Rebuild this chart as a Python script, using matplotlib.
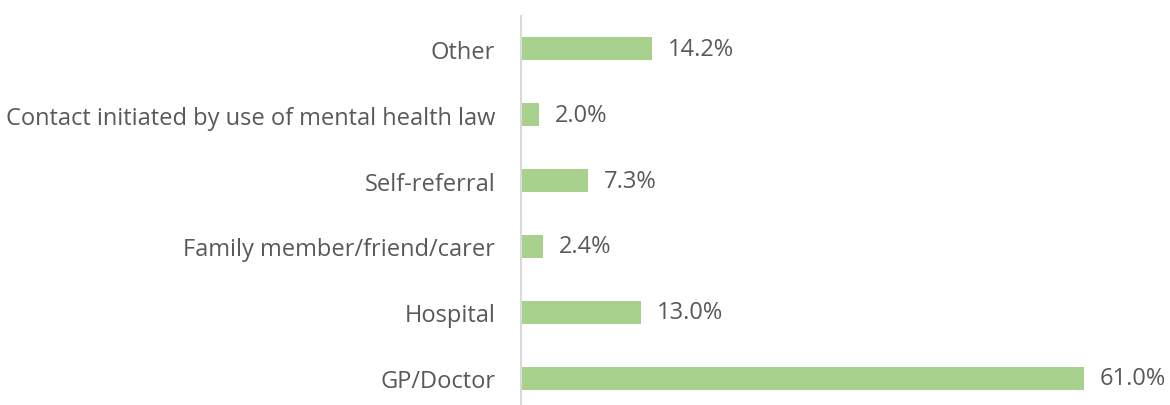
import matplotlib.pyplot as plt

categories = ['GP/Doctor', 'Hospital', 'Family member/friend/carer', 'Self-referral',
              'Contact initiated by use of mental health law', 'Other']
values = [61.0, 13.0, 2.4, 7.3, 2.0, 14.2]

plt.rcParams['font.family'] = ['Open Sans', 'DejaVu Sans']

fig = plt.figure(figsize=(11.7, 4.06), dpi=100)
# axis line at x=521px, category band from 17px to ~412px (below figure edge)
ax = fig.add_axes([521 / 1170, -6 / 406, 649 / 1170, 395 / 406])

ypos = range(len(categories))
ax.barh(ypos, values, height=0.35, color='#A9D18E')
for y, v in zip(ypos, values):
    ax.text(v + 1.7, y, f'{v:.1f}%', va='center', ha='left', fontsize=17, color='#595959')

ax.set_xlim(0, 649 / 9.23)
ax.set_ylim(-0.5, 5.5)
ax.set_yticks(list(ypos))
ax.set_yticklabels(categories, fontsize=17, color='#595959')
ax.tick_params(axis='y', length=0, pad=18.5)
ax.set_xticks([])
for s in ['top', 'right', 'bottom']:
    ax.spines[s].set_visible(False)
ax.spines['left'].set_color('#D9D9D9')
ax.spines['left'].set_linewidth(1.5)

fig.savefig('out.png', dpi=100)
